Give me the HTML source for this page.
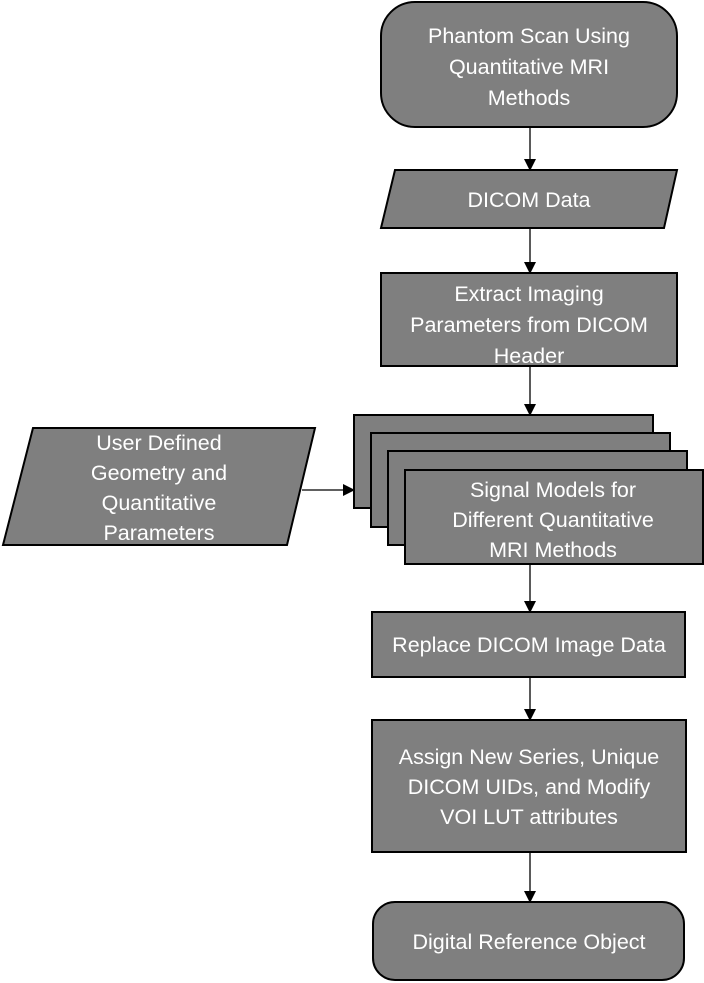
<!DOCTYPE html>
<html><head><style>body{margin:0;background:#fff}svg{display:block}text{font-family:"Liberation Sans",sans-serif;font-size:21.5px;fill:#fff;text-anchor:middle}</style></head>
<body>
<svg width="704" height="983" viewBox="0 0 704 983" xmlns="http://www.w3.org/2000/svg">
<defs><marker id="a" markerWidth="12" markerHeight="12" refX="11" refY="6" orient="auto" markerUnits="userSpaceOnUse"><path d="M0,0 L12,6 L0,12 Z" fill="#000"/></marker></defs>
<g fill="#7f7f7f" stroke="#000" stroke-width="2">
<rect x="381" y="2" width="296" height="125" rx="34"/>
<polygon points="395,170 677,170 664,228 381,228"/>
<rect x="381" y="273" width="296" height="93"/>
<rect x="354" y="415" width="299" height="93"/>
<rect x="371" y="433" width="299" height="94"/>
<rect x="388" y="451" width="299" height="94"/>
<rect x="405" y="470" width="298" height="94"/>
<polygon points="33,428 315,428 287,545 3,545"/>
<rect x="372" y="612" width="313" height="65"/>
<rect x="372" y="720" width="314" height="132"/>
<rect x="373" y="902" width="311" height="78" rx="22"/>
</g>
<g stroke="#000" stroke-width="1.3" fill="none" marker-end="url(#a)">
<line x1="530" y1="127" x2="530" y2="170"/>
<line x1="530" y1="228" x2="530" y2="273"/>
<line x1="530" y1="366" x2="530" y2="415"/>
<line x1="302" y1="490" x2="354" y2="490"/>
<line x1="530" y1="564" x2="530" y2="612"/>
<line x1="530" y1="677" x2="530" y2="720"/>
<line x1="530" y1="852" x2="530" y2="902"/>
</g>
<text x="529" y="43">Phantom Scan Using</text>
<text x="529" y="74">Quantitative MRI</text>
<text x="529" y="105">Methods</text>
<text x="529" y="207">DICOM Data</text>
<text x="529" y="301">Extract Imaging</text>
<text x="529" y="332">Parameters from DICOM</text>
<text x="529" y="363">Header</text>
<text x="553" y="497">Signal Models for</text>
<text x="553" y="527">Different Quantitative</text>
<text x="553" y="557">MRI Methods</text>
<text x="159" y="450">User Defined</text>
<text x="159" y="480">Geometry and</text>
<text x="159" y="510">Quantitative</text>
<text x="159" y="540">Parameters</text>
<text x="529" y="652">Replace DICOM Image Data</text>
<text x="529" y="764">Assign New Series, Unique</text>
<text x="529" y="794">DICOM UIDs, and Modify</text>
<text x="529" y="824">VOI LUT attributes</text>
<text x="529" y="949">Digital Reference Object</text>
</svg>
</body></html>
